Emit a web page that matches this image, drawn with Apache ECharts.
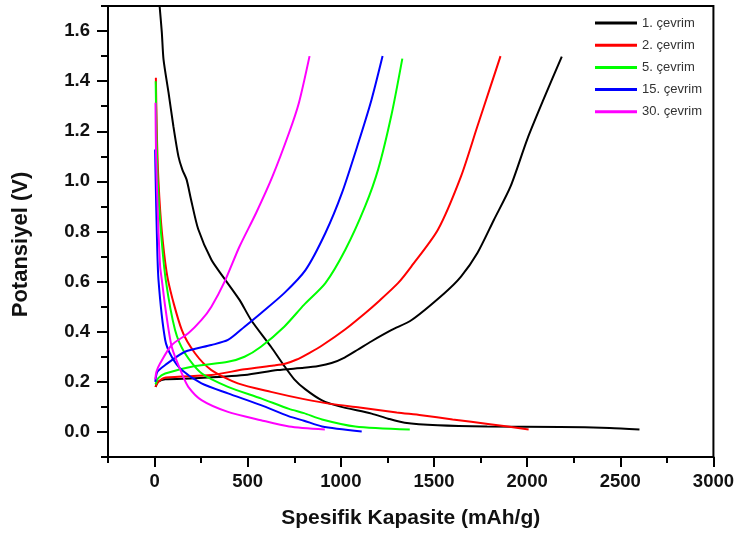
<!DOCTYPE html>
<html>
<head>
<meta charset="utf-8">
<script src="https://cdn.jsdelivr.net/npm/echarts@6/dist/echarts.min.js"></script>
<style>
html,body{margin:0;padding:0;background:#fff;}
#chart{width:737px;height:537px;}
</style>
</head>
<body>
<div id="chart"></div>
<script>
// Cycle names and colours
var cycleNames = ['1. çevrim', '2. çevrim', '5. çevrim', '15. çevrim', '30. çevrim'];
var cycleColors = ['#000000', '#ff0000', '#00ff00', '#0000ff', '#ff00ff'];

// [capacity mAh/g, potential V] — discharge branches
var c1Discharge = [[27,1.70],[39,1.594],[48,1.487],[75,1.354],[101,1.22],[128,1.10],[149,1.047],[172,1.007],[195,0.93],[234,0.81],[305,0.687],[367,0.62],[456,0.527],[518,0.447],[625,0.34],[690,0.27],[750,0.21],[810,0.17],[899,0.126],[988,0.103],[1165,0.073],[1254,0.053],[1343,0.037],[1520,0.027],[1786,0.022],[2176,0.02],[2443,0.016],[2603,0.01]];
var c2Discharge = [[7,1.414],[12,1.2],[21,1.0],[39,0.8],[72,0.607],[146,0.407],[217,0.314],[305,0.247],[447,0.194],[625,0.16],[802,0.131],[953,0.111],[1100,0.098],[1300,0.078],[1432,0.067],[1600,0.05],[1800,0.031],[2008,0.01]];
var c5Discharge = [[6,1.40],[10,1.2],[17,1.0],[34,0.8],[60,0.607],[110,0.407],[163,0.314],[252,0.234],[394,0.18],[571,0.134],[722,0.092],[802,0.075],[899,0.05],[1077,0.022],[1370,0.01]];
var c15Discharge = [[3,1.127],[6,1.0],[12,0.8],[21,0.607],[57,0.367],[92,0.30],[146,0.247],[252,0.194],[394,0.154],[571,0.107],[722,0.062],[802,0.045],[899,0.022],[1112,0.002]];
var c30Discharge = [[5,1.314],[8,1.1],[15,0.927],[21,0.8],[30,0.66],[39,0.607],[57,0.50],[92,0.34],[146,0.234],[181,0.18],[252,0.127],[394,0.08],[571,0.047],[722,0.022],[914,0.01]];

// [capacity mAh/g, potential V] — charge branches
var c1Charge = [[5,0.18],[20,0.20],[57,0.21],[217,0.214],[483,0.227],[660,0.247],[802,0.256],[880,0.263],[950,0.275],[1020,0.297],[1090,0.328],[1165,0.362],[1273,0.407],[1380,0.447],[1556,0.554],[1645,0.62],[1733,0.714],[1822,0.847],[1911,0.98],[2000,1.167],[2088,1.327],[2186,1.498]];
var c2Charge = [[5,0.18],[20,0.20],[60,0.217],[305,0.227],[483,0.25],[640,0.265],[700,0.272],[760,0.288],[830,0.315],[899,0.345],[1024,0.41],[1130,0.474],[1201,0.52],[1308,0.595],[1378,0.66],[1521,0.807],[1645,1.02],[1733,1.22],[1804,1.38],[1857,1.5]];
var c5Charge = [[5,0.19],[20,0.215],[57,0.233],[217,0.263],[394,0.28],[483,0.30],[571,0.34],[696,0.42],[802,0.507],[917,0.594],[1024,0.727],[1130,0.90],[1201,1.05],[1273,1.27],[1330,1.49]];
var c15Charge = [[4,0.20],[15,0.24],[57,0.267],[163,0.32],[305,0.347],[394,0.367],[483,0.42],[571,0.474],[696,0.554],[811,0.647],[917,0.794],[1006,0.954],[1094,1.154],[1165,1.327],[1224,1.50]];
var c30Charge = [[4,0.21],[10,0.24],[30,0.274],[92,0.347],[181,0.394],[252,0.447],[305,0.50],[376,0.60],[456,0.74],[545,0.874],[633,1.02],[722,1.194],[775,1.314],[832,1.50]];

// Axis ticks
var xMajorTicks = [0, 500, 1000, 1500, 2000, 2500, 3000];
var xMinorTicks = [-250, 250, 750, 1250, 1750, 2250, 2750];
var yMajorTicks = [0, 0.2, 0.4, 0.6, 0.8, 1.0, 1.2, 1.4, 1.6];
var yMinorTicks = [-0.1, 0.1, 0.3, 0.5, 0.7, 0.9, 1.1, 1.3, 1.5, 1.7];

var dischargeSets = [c1Discharge, c2Discharge, c5Discharge, c15Discharge, c30Discharge];
var chargeSets = [c1Charge, c2Charge, c5Charge, c15Charge, c30Charge];

var FONT = '"Liberation Sans", Arial, sans-serif';

var series = [];
for (var i = 0; i < cycleNames.length; i++) {
  [dischargeSets[i], chargeSets[i]].forEach(function (d) {
    series.push({
      type: 'line',
      name: cycleNames[i],
      data: d,
      xAxisIndex: 0,
      yAxisIndex: 0,
      showSymbol: false,
      symbol: 'none',
      smooth: 0.25,
      lineStyle: { color: cycleColors[i], width: 2 },
      itemStyle: { color: cycleColors[i] },
      animation: false
    });
  });
}

var chart = echarts.init(document.getElementById('chart'), null, { renderer: 'canvas' });
chart.setOption({
  animation: false,
  backgroundColor: '#ffffff',
  grid: { left: 108, right: 18, top: 6, bottom: 80, show: true, borderColor: '#000', borderWidth: 2, backgroundColor: 'transparent' },
  legend: {
    data: cycleNames,
    orient: 'vertical',
    left: 595,
    top: 16,
    padding: 0,
    itemWidth: 42,
    itemHeight: 3,
    itemGap: 8.2,
    icon: 'rect',
    selectedMode: false,
    textStyle: { fontFamily: FONT, fontSize: 13, color: '#333', lineHeight: 14 }
  },
  xAxis: [{
    type: 'value',
    min: -250,
    max: 3000,
    name: 'Spesifik Kapasite (mAh/g)',
    nameLocation: 'middle',
    nameGap: 51,
    nameTextStyle: { fontFamily: FONT, fontSize: 21, fontWeight: 'bold', color: '#111' },
    axisLine: { show: true, onZero: false, lineStyle: { color: '#000', width: 2 } },
    axisTick: { show: true, customValues: xMajorTicks, length: 10, lineStyle: { color: '#000', width: 2 } },
    axisLabel: { customValues: xMajorTicks, margin: 15, fontFamily: FONT, fontSize: 18.5, fontWeight: 'bold', color: '#111',
      formatter: function (v) { return String(v); } },
    splitLine: { show: false }
  }, {
    type: 'value',
    min: -250,
    max: 3000,
    position: 'bottom',
    axisLine: { show: false, onZero: false },
    axisTick: { show: true, customValues: xMinorTicks, length: 6, lineStyle: { color: '#000', width: 2 } },
    axisLabel: { show: false },
    splitLine: { show: false }
  }],
  yAxis: [{
    type: 'value',
    min: -0.1,
    max: 1.7,
    name: 'Potansiyel (V)',
    nameLocation: 'middle',
    nameGap: 76,
    nameTextStyle: { fontFamily: FONT, fontSize: 22, fontWeight: 'bold', color: '#111', padding: [0, 26, 0, 0] },
    axisLine: { show: true, onZero: false, lineStyle: { color: '#000', width: 2 } },
    axisTick: { show: true, customValues: yMajorTicks, length: 11, lineStyle: { color: '#000', width: 2 } },
    axisLabel: { customValues: yMajorTicks, margin: 18, fontFamily: FONT, fontSize: 18.5, fontWeight: 'bold', color: '#111',
      formatter: function (v) { return Number(v).toFixed(1); } },
    splitLine: { show: false }
  }, {
    type: 'value',
    min: -0.1,
    max: 1.7,
    position: 'left',
    axisLine: { show: false, onZero: false },
    axisTick: { show: true, customValues: yMinorTicks, length: 7, lineStyle: { color: '#000', width: 2 } },
    axisLabel: { show: false },
    splitLine: { show: false }
  }],
  series: series
});
</script>
</body>
</html>
